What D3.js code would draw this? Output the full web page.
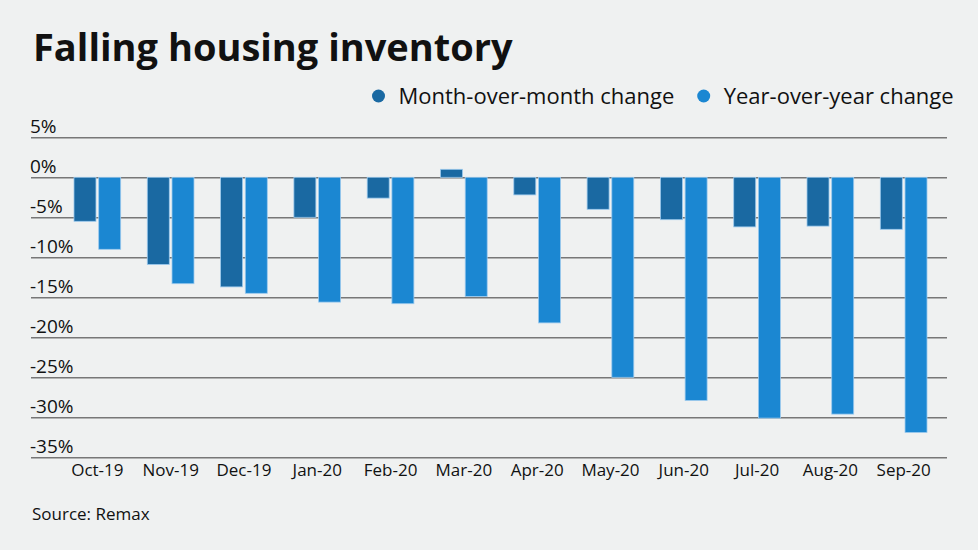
<!DOCTYPE html>
<html>
<head>
<meta charset="utf-8">
<script src="https://cdn.jsdelivr.net/npm/d3@7"></script>
<style>
  body { margin: 0; background: #eff1f1; }
  text { font-family: "Open Sans", Lato, sans-serif; fill: #111; }
</style>
</head>
<body>
<div id="chart"></div>
<script>
var width = 978;
var height = 550;

var months = ["Oct-19","Nov-19","Dec-19","Jan-20","Feb-20","Mar-20","Apr-20","May-20","Jun-20","Jul-20","Aug-20","Sep-20"];
var monthOverMonth = [-5.5, -10.9, -13.7, -5.0, -2.6, 1.0, -2.2, -4.0, -5.3, -6.2, -6.1, -6.5];
var yearOverYear = [-9.0, -13.3, -14.5, -15.6, -15.8, -14.9, -18.2, -25.0, -27.9, -30.1, -29.6, -31.9];
var yTicks = [5, 0, -5, -10, -15, -20, -25, -30, -35];
var seriesNames = ["Month-over-month change", "Year-over-year change"];
var colors = ["#1a69a2", "#1b87d2"];

var data = months.map(function(m, i) {
  return {month: m, values: [monthOverMonth[i], yearOverYear[i]]};
});

var svg = d3.select("#chart")
  .append("svg")
  .attr("width", width)
  .attr("height", height);

svg.append("rect")
  .attr("width", width)
  .attr("height", height)
  .attr("fill", "#eff1f1");

var gridLeft = 31, gridRight = 947;

var xScale = d3.scaleBand()
  .domain(months)
  .range([52, 949])
  .paddingInner(0.363)
  .paddingOuter(0.3);

var xInner = d3.scaleBand()
  .domain([0, 1])
  .range([0, xScale.bandwidth()])
  .paddingInner(0.11);

var yScale = d3.scaleLinear()
  .domain([-35, 5])
  .range([457.3, 137.3]);

// title
svg.append("text")
  .attr("x", 33)
  .attr("y", 61)
  .attr("font-size", 38)
  .attr("font-weight", 700)
  .text("Falling housing inventory");

// legend
var legendX = [378.5, 703.7];
var legend = svg.selectAll(".legend")
  .data(seriesNames)
  .enter()
  .append("g")
    .attr("class", "legend")
    .attr("transform", function(d, i) { return `translate(${legendX[i]},96)`; });

legend.append("circle")
  .attr("r", 6.5)
  .attr("cy", 0)
  .attr("fill", function(d, i) { return colors[i]; });

legend.append("text")
  .attr("x", 20)
  .attr("y", 7.5)
  .attr("font-size", 22)
  .text(function(d) { return d; });

// grid lines and y labels
var yAxis = svg.append("g")
  .attr("transform", `translate(${gridLeft},0)`)
  .call(d3.axisRight(yScale)
    .tickValues(yTicks)
    .tickSize(gridRight - gridLeft)
    .tickFormat(function(d) { return d + "%"; }));

yAxis.select(".domain").remove();
yAxis.selectAll(".tick line")
  .attr("stroke", "#777")
  .attr("stroke-width", 1.4);
yAxis.selectAll(".tick text")
  .attr("x", -1)
  .attr("dy", -5)
  .attr("text-anchor", "start")
  .attr("font-size", 19)
  .attr("fill", "#111");

// bars
var groups = svg.selectAll(".group")
  .data(data)
  .enter()
  .append("g")
    .attr("class", "group")
    .attr("transform", function(d) { return `translate(${xScale(d.month)},0)`; });

groups.selectAll("rect")
  .data(function(d) { return d.values; })
  .enter()
  .append("rect")
    .attr("x", function(d, i) { return xInner(i); })
    .attr("y", function(d) { return yScale(Math.max(0, d)); })
    .attr("width", xInner.bandwidth())
    .attr("height", function(d) { return Math.abs(yScale(d) - yScale(0)); })
    .attr("fill", function(d, i) { return colors[i]; })
    .attr("stroke", "#9ccaee")
    .attr("stroke-width", 0.8);

// x labels
var xAxis = svg.append("g")
  .attr("transform", `translate(0,457)`)
  .call(d3.axisBottom(xScale).tickSize(0).tickPadding(0));

xAxis.select(".domain").remove();
xAxis.selectAll(".tick text")
  .attr("y", 19)
  .attr("dy", 0)
  .attr("font-size", 17)
  .attr("fill", "#111");

// source
svg.append("text")
  .attr("x", 32)
  .attr("y", 520)
  .attr("font-size", 17)
  .text("Source: Remax");
</script>
</body>
</html>
